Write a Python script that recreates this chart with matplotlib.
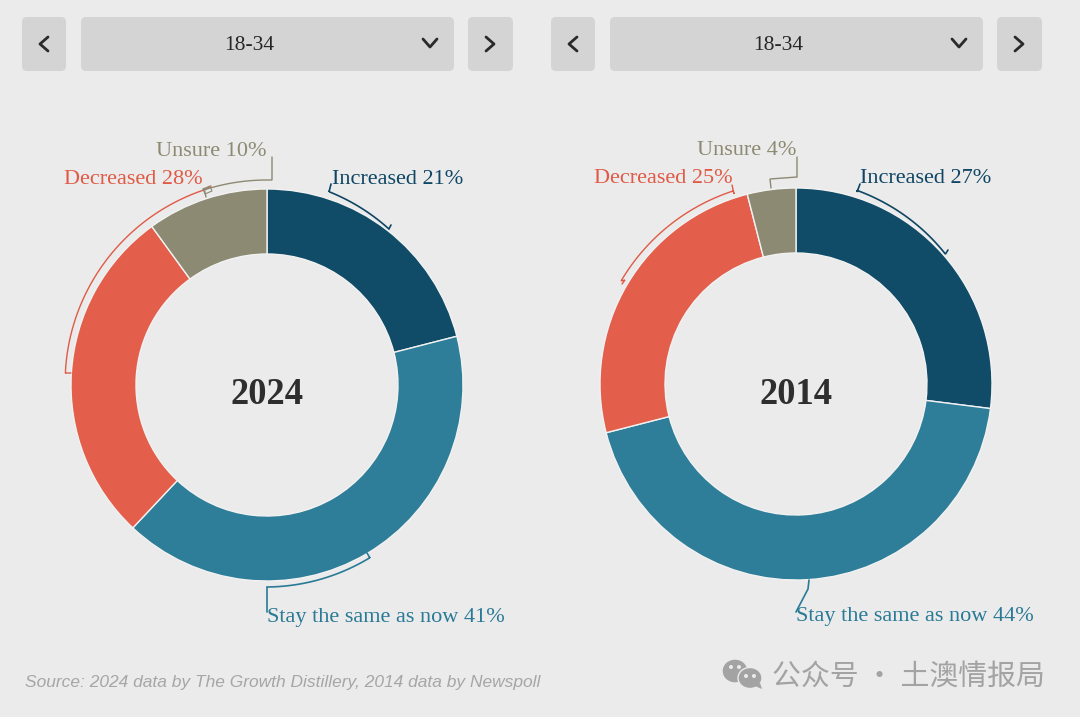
import numpy as np
import matplotlib
matplotlib.use("Agg")
import matplotlib.pyplot as plt
from matplotlib.patches import FancyBboxPatch, Ellipse, Polygon
from matplotlib.transforms import Affine2D

# ---- data ----
categories = ["Increased", "Stay the same as now", "Decreased", "Unsure"]
years = ["2024", "2014"]
values_2024 = [21, 41, 28, 10]
values_2014 = [27, 44, 25, 4]
dropdown_label = "18-34"
source_text = "Source: 2024 data by The Growth Distillery, 2014 data by Newspoll"
watermark_text = "公众号 · 土澳情报局"

# ---- style ----
BG = "#EBEBEB"
BTN = "#D4D4D4"
slice_colors = ["#104C68", "#2E7D99", "#E35F4B", "#8C8A72"]
label_colors = ["#0F4664", "#2A7A96", "#E05A46", "#8C8A72"]
W, H = 1080, 717
SERIF = "Liberation Serif"

fig = plt.figure(figsize=(W / 100, H / 100), dpi=100, facecolor=BG)
ax = fig.add_axes([0, 0, 1, 1])
pix = Affine2D().scale(1, -1).translate(0, H) + ax.transData


def Y(y):
    return H - y


def draw_path(pts, color, lw=1.2, join="miter"):
    xs, ys = zip(*pts)
    ax.plot(xs, [Y(v) for v in ys], color=color, lw=lw, solid_capstyle="round",
            solid_joinstyle=join, zorder=4)


def arc_pts(cx, cy, r0, r1, a0, a1, n=40):
    t = np.radians(np.linspace(a0, a1, n))
    r = np.linspace(r0, r1, n)
    return [(cx + q * np.sin(a), cy - q * np.cos(a)) for a, q in zip(t, r)]


def button(x0, x1, y0=17, y1=71):
    ax.add_patch(FancyBboxPatch((x0 + 5, Y(y1) + 5), x1 - x0 - 10, y1 - y0 - 10,
                                boxstyle="round,pad=5,rounding_size=5",
                                fc=BTN, ec="none", zorder=2))


def chevron(cx, cy, kind):
    if kind == "left":
        pts = [(cx + 4, cy - 7), (cx - 4, cy), (cx + 4, cy + 7)]
    elif kind == "right":
        pts = [(cx - 4, cy - 7), (cx + 4, cy), (cx - 4, cy + 7)]
    else:
        pts = [(cx - 7, cy - 4), (cx, cy + 4), (cx + 7, cy - 4)]
    draw_path(pts, "#2A2A2A", lw=2.0, join="round")


def controls(offset):
    button(22 + offset, 66 + offset)
    button(81 + offset, 454 + offset)
    button(468 + offset, 513 + offset)
    chevron(44 + offset, 44, "left")
    chevron(490 + offset, 44, "right")
    chevron(430 + offset, 43, "down")
    ax.text(249 + offset, 43, dropdown_label, ha="center", va="center_baseline", fontsize=15.5,
            family=SERIF, color="#262626", zorder=5, transform=pix)


def donut(cx, cy, values, year):
    ax.pie(values, colors=slice_colors, startangle=90, counterclock=False,
           center=(cx, Y(cy)), radius=196, frame=False,
           wedgeprops=dict(width=65, edgecolor="#F2F2F2", linewidth=1.0, zorder=3))
    ax.text(cx, cy + 6, year, ha="center", va="center_baseline", fontsize=26.3, weight="bold",
            family=SERIF, color="#2E2E2E", zorder=5, transform=pix)


controls(0)
controls(529)
donut(267, 385, values_2024, years[0])
donut(796, 384, values_2014, years[1])
ax.set_aspect("equal")
ax.axis("off")

# ---- leader brackets ----
# 2024
draw_path([(331, 184), (329, 192)] + arc_pts(267, 385, 203, 198, 17.8, 38) + [(391, 225)], label_colors[0])
draw_path([(367, 553), (370, 558)] + arc_pts(267, 385, 201, 202, 149.2, 180) + [(267, 612)], label_colors[1])
draw_path([(71, 373), (65, 373)] + arc_pts(267, 385, 202, 205, 273.4, 342) + [(211, 186)], label_colors[2], lw=1.0)
draw_path([(206, 197), (204, 188)] + arc_pts(267, 385, 205, 205, 342, 359) + [(272, 180), (272, 157)], label_colors[3], lw=1.0)
draw_path([(203, 189), (210, 186), (212, 191), (205, 194), (203, 189)], label_colors[3], lw=0.8)
# 2014
draw_path([(860, 184), (857, 192)] + arc_pts(796, 384, 203, 198, 17.5, 49) + [(948, 250)], label_colors[0])
draw_path([(809, 580), (808, 589), (796, 612)], label_colors[1])
draw_path([(622, 284), (625, 280)] + arc_pts(796, 384, 203, 203, 300.5, 342) + [(734, 194), (732, 185)], label_colors[2], lw=1.0)
draw_path([(771, 188), (770, 179), (797, 177), (797, 157)], label_colors[3], lw=1.0)


# ---- labels ----
def label(x, y, cat_idx, vals, ha="left"):
    ax.text(x, y, f"{categories[cat_idx]} {vals[cat_idx]}%", ha=ha, va="center_baseline", fontsize=16.0,
            family=SERIF, color=label_colors[cat_idx], zorder=5, transform=pix)


label(332, 177, 0, values_2024)
label(267, 615, 1, values_2024)
label(203, 177, 2, values_2024, ha="right")
label(267, 149, 3, values_2024, ha="right")
label(860, 176, 0, values_2014)
label(796, 614, 1, values_2014)
label(733, 176, 2, values_2014, ha="right")
label(796, 148, 3, values_2014, ha="right")

# ---- source ----
ax.text(25, 682, source_text, ha="left", va="center", fontsize=12.5, style="italic",
        family="Liberation Sans", color="#A6A6A6", zorder=5, transform=pix)

# ---- watermark ----
wm = "#A3A3A3"
for (ex, ey, ew, eh) in [(735, 671, 26, 24), (750, 678, 24, 21)]:
    ax.add_patch(Ellipse((ex, Y(ey)), ew, eh, fc=wm, ec=BG, lw=1, zorder=5))
ax.add_patch(Polygon([(755, Y(686)), (762, Y(689)), (760, Y(683))], fc=wm, ec="none", zorder=5))
for (ex, ey) in [(731, 667), (739, 667), (746, 676), (754, 676)]:
    ax.add_patch(Ellipse((ex, Y(ey)), 4, 4, fc=BG, ec="none", zorder=6))
ax.text(772, 673.5, watermark_text, ha="left", va="center_baseline", fontsize=20.8,
        family=["Noto Sans CJK SC", "DejaVu Sans"], color=wm, zorder=5, transform=pix)

ax.set_xlim(0, W)
ax.set_ylim(0, H)
fig.savefig("out.png", dpi=100, facecolor=BG)
